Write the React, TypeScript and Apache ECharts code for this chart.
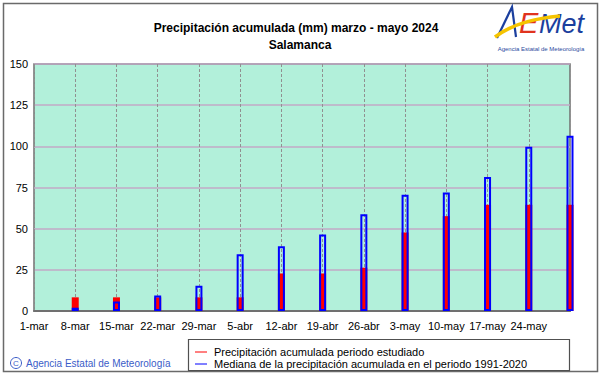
import React, { useEffect, useRef } from "react";
import * as echarts from "echarts";

const categories = ["1-mar", "8-mar", "15-mar", "22-mar", "29-mar", "5-abr", "12-abr", "19-abr", "26-abr", "3-may", "10-may", "17-may", "24-may", "31-may"];
const tickLabels = ["1-mar", "8-mar", "15-mar", "22-mar", "29-mar", "5-abr", "12-abr", "19-abr", "26-abr", "3-may", "10-may", "17-may", "24-may", ""];
const precipStudied = [null, 8.3, 8.3, 8.3, 8.3, 8.3, 22.8, 22.8, 26.3, 47.7, 57.6, 64.5, 64.5, 64.5];
const medianPrecip = [null, 2, 5.8, 9.4, 15.4, 34.4, 39.3, 46.5, 58.8, 70.6, 72, 81.4, 99.7, 106.4];
const yTicks = { min: 0, max: 150, interval: 25 };

const titleText = "Precipitación acumulada (mm) marzo - mayo 2024";
const subtitleText = "Salamanca";
const legendRed = "Precipitación acumulada periodo estudiado";
const legendBlue = "Mediana de la precipitación acumulada en el periodo 1991-2020";
const creditText = "Agencia Estatal de Meteorología";

const FONT = "'Liberation Sans', Arial, sans-serif";

export default function App() {
  const ref = useRef<HTMLDivElement>(null);
  useEffect(() => {
    document.body.style.margin = "0";
    const chart = echarts.init(ref.current!, null, { renderer: "svg" });
    chart.setOption({
      animation: false,
      backgroundColor: "#ffffff",
      grid: {
        left: 34,
        right: 31,
        top: 64,
        bottom: 63,
        show: true,
        backgroundColor: "#b2f0da",
        borderColor: "#707070",
        borderWidth: 1.5,
      },
      xAxis: {
        type: "category",
        data: categories,
        boundaryGap: false,
        axisLine: { show: true, lineStyle: { color: "#707070", width: 2 } },
        axisTick: { show: false },
        axisLabel: {
          interval: 0,
          margin: 9,
          color: "#000000",
          fontFamily: FONT,
          fontSize: 11,
          formatter: (_v: string, i: number) => tickLabels[i],
        },
        splitLine: { show: true, lineStyle: { color: "#909090", type: [3, 2], width: 1 } },
      },
      yAxis: {
        type: "value",
        min: yTicks.min,
        max: yTicks.max,
        interval: yTicks.interval,
        axisLine: { show: false },
        axisTick: { show: false },
        axisLabel: { margin: 6, color: "#000000", fontFamily: FONT, fontSize: 11 },
        splitLine: { show: true, lineStyle: { color: "#c2aac6", width: 1.5 } },
      },
      series: [
        {
          name: legendRed,
          type: "bar",
          data: precipStudied,
          barWidth: 7,
          barGap: "-100%",
          itemStyle: { color: "#ff0000" },
        },
        {
          name: legendBlue,
          type: "bar",
          data: medianPrecip,
          barWidth: 7,
          barGap: "-100%",
          itemStyle: { color: "rgba(0,0,0,0)", borderColor: "#0000ff", borderWidth: 2 },
        },
      ],
      graphic: [
        { type: "rect", shape: { x: 3.5, y: 3.5, width: 594, height: 368 }, style: { fill: "none", stroke: "#6a6a6a", lineWidth: 1.5 }, silent: true },
        { type: "text", x: 296, y: 28, style: { text: titleText, font: `bold 12px ${FONT}`, fill: "#000000", align: "center", verticalAlign: "middle" } },
        { type: "text", x: 300, y: 45, style: { text: subtitleText, font: `bold 12px ${FONT}`, fill: "#000000", align: "center", verticalAlign: "middle" } },
        // logo
        { type: "polyline", shape: { points: [[497, 38], [512, 7], [516, 37]] }, style: { stroke: "#1b3f9e", lineWidth: 2.2, fill: "none" } },
        { type: "text", x: 519, y: 23, style: { text: "E", font: `italic 29px ${FONT}`, fill: "#e0331e", verticalAlign: "middle" } },
        { type: "text", x: 539, y: 24, style: { text: "Met", font: `italic 27px ${FONT}`, fill: "#1b3f9e", verticalAlign: "middle" } },
        { type: "bezierCurve", shape: { x1: 495, y1: 37, x2: 560, y2: 16, cpx1: 515, cpy1: 22, cpx2: 540, cpy2: 18 }, style: { stroke: "#f5c400", lineWidth: 3.5, fill: "none" } },
        { type: "text", x: 541, y: 49, style: { text: "Agencia Estatal de Meteorología", font: `6px ${FONT}`, fill: "#2a4a9e", align: "center", verticalAlign: "middle" } },
        // legend
        { type: "rect", shape: { x: 188.5, y: 339.5, width: 381, height: 31 }, style: { fill: "#ffffff", stroke: "#505050", lineWidth: 1.2 } },
        { type: "line", shape: { x1: 195, y1: 352, x2: 207, y2: 352 }, style: { stroke: "#ff0000", lineWidth: 1 } },
        { type: "line", shape: { x1: 195, y1: 364, x2: 207, y2: 364 }, style: { stroke: "#0000ff", lineWidth: 1 } },
        { type: "text", x: 214, y: 352, style: { text: legendRed, font: `11px ${FONT}`, fill: "#000000", verticalAlign: "middle" } },
        { type: "text", x: 214, y: 364, style: { text: legendBlue, font: `11px ${FONT}`, fill: "#000000", verticalAlign: "middle" } },
        // credit
        { type: "circle", shape: { cx: 16, cy: 363, r: 5.5 }, style: { fill: "none", stroke: "#3a5cc8", lineWidth: 1 } },
        { type: "text", x: 16, y: 363.5, style: { text: "C", font: `8px ${FONT}`, fill: "#3a5cc8", align: "center", verticalAlign: "middle" } },
        { type: "text", x: 26, y: 363, style: { text: creditText, font: `10px ${FONT}`, fill: "#3a5cc8", verticalAlign: "middle" } },
      ],
    });
    return () => chart.dispose();
  }, []);
  return <div ref={ref} style={{ position: "absolute", left: 0, top: 0, width: 601, height: 374 }} />;
}
